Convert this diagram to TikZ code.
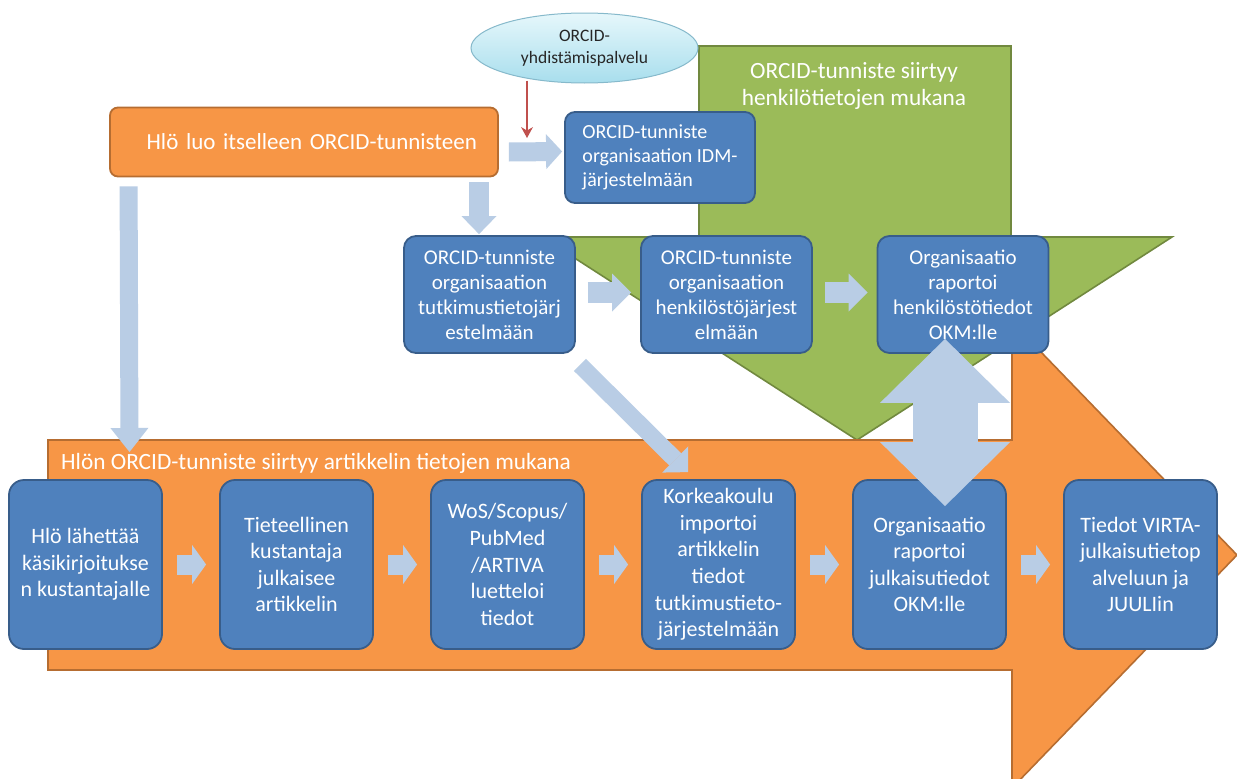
\documentclass[tikz,border=0pt]{standalone}
\usepackage{fontspec}
\setmainfont{Carlito}
\usetikzlibrary{shapes.geometric,arrows.meta}
\definecolor{orfill}{HTML}{F79646}
\definecolor{ordraw}{HTML}{B66D31}
\definecolor{grfill}{HTML}{9BBB59}
\definecolor{grdraw}{HTML}{71893F}
\definecolor{blfill}{HTML}{4F81BD}
\definecolor{bldraw}{HTML}{385D8A}
\definecolor{arblue}{HTML}{B9CDE5}
\definecolor{redar}{HTML}{C0504D}
\definecolor{elltop}{HTML}{E6F7FB}
\definecolor{ellbot}{HTML}{A8DEED}
\definecolor{elldraw}{HTML}{86B9CB}
\begin{document}
\begin{tikzpicture}[x=1pt,y=-1pt,
  bigshape/.style={line width=1.6pt, line join=miter},
  bluebox/.style={draw=bldraw, fill=blfill, line width=1.8pt, text=white,
    align=center, inner sep=1pt},
  topbox/.style={bluebox, rounded corners=12pt, minimum width=171pt, minimum height=117pt,
    font=\fontsize{21}{25}\selectfont},
  botbox/.style={bluebox, rounded corners=15pt, minimum width=153pt, minimum height=169pt,
    font=\fontsize{22}{26.6}\selectfont},
  lbl/.style={text=white, font=\fontsize{23.3}{27}\selectfont, inner sep=0pt},
  blk/.style n args={3}{draw=arblue, line width=#1, line cap=butt,
    -{Triangle[width=#2, length=#3, line width=0pt]}},
  dblk/.style n args={3}{draw=arblue, line width=#1, line cap=butt,
    {Triangle[width=#2, length=#3, line width=0pt]}-{Triangle[width=#2, length=#3, line width=0pt]}}
]
\useasboundingbox[fill=white] (0,0) rectangle (1237,779);

% green down arrow
\draw[bigshape, draw=grdraw, fill=grfill]
  (699,46) -- (1011,46) -- (1011,237) -- (1172,237) -- (857,440)
  -- (542,237) -- (699,237) -- cycle;
% orange right arrow
\draw[bigshape, draw=ordraw, fill=orfill]
  (48,440) -- (1012,440) -- (1012,322) -- (1237,555) -- (1012,788)
  -- (1012,670) -- (48,670) -- cycle;

\node[lbl, align=center] (glbl) at (854,86) {ORCID-tunniste siirtyy\\henkilötietojen mukana};
\node[lbl, anchor=west] (olbl) at (61,463) {Hlön ORCID-tunniste siirtyy artikkelin tietojen mukana};

% ellipse
\node[ellipse, draw=elldraw, line width=1pt, top color=elltop, bottom color=ellbot,
  minimum width=227pt, minimum height=70pt, inner sep=0pt, align=center,
  text=black!85, font=\fontsize{17.5}{22}\selectfont] (ell) at (584.5,48)
  {ORCID-\\yhdistämispalvelu};

% title box
\node[draw=ordraw, fill=orfill, line width=1.8pt, rounded corners=8pt,
  minimum height=69pt, text width=346pt, inner xsep=21pt, inner ysep=0pt,
  align=right, text=white, font=\fontsize{23}{27}\selectfont] (title) at (304,142)
  {Hlö luo itselleen ORCID-tunnisteen};

\node[bluebox, rounded corners=10pt, minimum width=190pt, minimum height=91pt, align=left,
  font=\fontsize{20}{24.3}\selectfont]
  (idm) at (660,157.5) {ORCID-tunniste\\organisaation IDM-\\järjestelmään};

\node[topbox] (tut) at (489.5,294.5) {ORCID-tunniste\\organisaation\\tutkimustietojärj\\estelmään};
\node[topbox] (hen) at (726.5,294.5) {ORCID-tunniste\\organisaation\\henkilöstöjärjest\\elmään};
\node[topbox] (org1) at (963,294.5) {Organisaatio\\raportoi\\henkilöstötiedot\\OKM:lle};

\node[botbox] (b1) at (85.5,564.5) {Hlö lähettää\\käsikirjoitukse\\n kustantajalle};
\node[botbox] (b2) at (296.5,564.5) {Tieteellinen\\kustantaja\\julkaisee\\artikkelin};
\node[botbox] (b3) at (507.5,564.5) {WoS/Scopus/\\PubMed\\/ARTIVA\\luetteloi\\tiedot};
\node[botbox] (b4) at (718.5,564.5) {Korkeakoulu\\importoi\\artikkelin\\tiedot\\tutkimustieto-\\järjestelmään};
\node[botbox] (b5) at (929.5,564.5) {Organisaatio\\raportoi\\julkaisutiedot\\OKM:lle};
\node[botbox] (b6) at (1140.5,564.5) {Tiedot VIRTA-\\julkaisutietop\\alveluun ja\\JUULIin};

% connectors
\coordinate (otop) at (129.5,452);
\coordinate (redend) at (527,138);

\draw[blk={19pt}{35pt}{16pt}] ([xshift=10pt,yshift=-10pt]title.east) -- ([xshift=-2pt,yshift=6pt]idm.west);
\draw[blk={20pt}{35pt}{18pt}] ([xshift=175pt,yshift=-5pt]title.south) -- ([xshift=-10.5pt,yshift=1pt]tut.north);
\draw[blk={18pt}{38pt}{24pt}] ([xshift=19.5pt,yshift=-9pt]title.south west) -- (otop);
\draw[blk={21pt}{38pt}{19pt}] ([xshift=12pt,yshift=2pt]tut.east) -- ([xshift=-9pt,yshift=2pt]hen.west);
\draw[blk={21pt}{38pt}{19pt}] ([xshift=12pt,yshift=2pt]hen.east) -- ([xshift=-9pt,yshift=2pt]org1.west);
\draw[blk={17pt}{37pt}{18pt}] ([xshift=4pt,yshift=-11pt]tut.south east) -- ([xshift=-30.5pt,yshift=7pt]b4.north);
\draw[dblk={65pt}{130pt}{64pt}] ([xshift=-18pt,yshift=15pt]org1.south) -- ([xshift=15.5pt,yshift=-27pt]b5.north);

\foreach \a/\b in {b1/b2,b2/b3,b3/b4,b4/b5,b5/b6}
  \draw[blk={20pt}{39pt}{14pt}] ([xshift=14pt]\a.east) -- ([xshift=-13pt]\b.west);

\draw[draw=redar, line width=2.4pt, -{Stealth[width=12pt,length=11pt,line width=0pt]}]
  ([xshift=-57.5pt,yshift=3pt]ell.south) -- (redend);
\end{tikzpicture}
\end{document}
